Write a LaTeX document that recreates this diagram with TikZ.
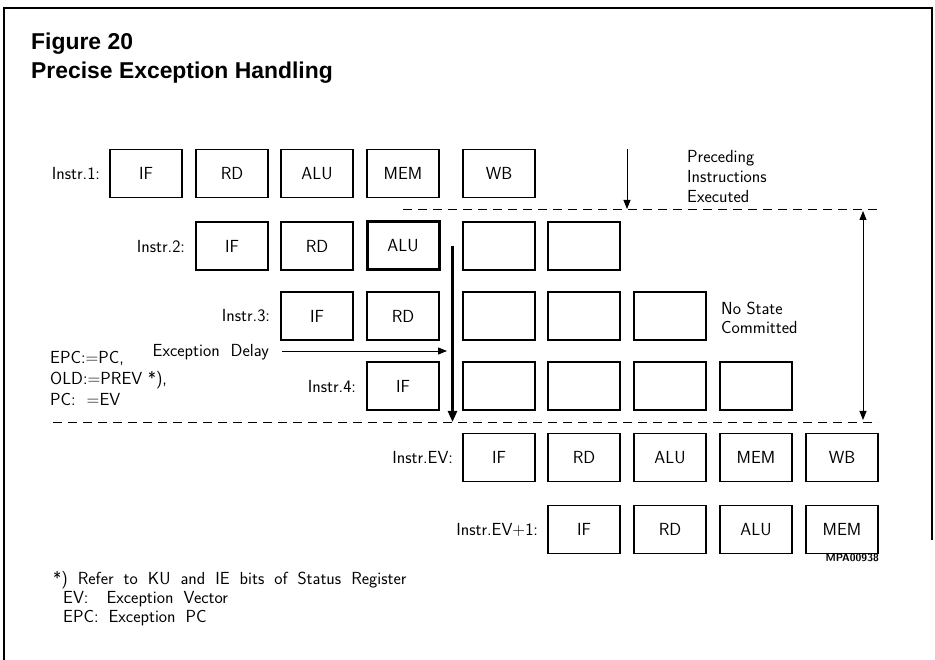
\documentclass[tikz,border=0pt]{standalone}
\usepackage{fontspec}
\setmainfont{Liberation Sans}
\usetikzlibrary{arrows.meta}
\usetikzlibrary{positioning}
\newcommand{\widesp}{\spaceskip=10pt\relax}

\begin{document}
\begin{tikzpicture}[x=1pt,y=-1pt,inner sep=0pt,
  font=\sffamily\fontsize{17.5}{20}\selectfont,
  stage/.style={draw,line width=1.5pt,minimum width=72pt,minimum height=48pt},
  hot/.style={stage,line width=3pt},
  tip/.style={-{Triangle[length=9pt,width=7pt]}},
  sep/.style={dash pattern=on 9pt off 6pt,line width=0.8pt}]
\useasboundingbox (0,0) rectangle (935,660);
\draw[line width=1.5pt] (4,660) -- (4,8) -- (932,8) -- (932,540);
\node[anchor=base west,font=\rmfamily\bfseries\fontsize{22.9}{22.9}\selectfont] (fig) at (31,50) {Figure 20};
\node[anchor=base west,font=\rmfamily\bfseries\fontsize{22.9}{22.9}\selectfont] (head) at (31,79) {Precise Exception Handling};

% Instr.1
\node[stage] (r1c1) at (146,173.5) {IF};
\node[stage] (r1c2) at (232,173.5) {RD};
\node[stage] (r1c3) at (317,173.5) {ALU};
\node[stage] (r1c4) at (403,173.5) {MEM};
\node[stage] (r1c5) at (499,173.5) {WB};
\node[left=9pt of r1c1] (l1) {Instr.1:};
% Instr.2
\node[stage] (r2c2) at (232,246) {IF};
\node[stage] (r2c3) at (317,246) {RD};
\node[hot] (r2c4) at (403,246) {ALU};
\node[stage] (r2c5) at (499,246) {};
\node[stage] (r2c6) at (584,246) {};
\node[left=10pt of r2c2] (l2) {Instr.2:};
% Instr.3
\node[stage] (r3c3) at (317,316) {IF};
\node[stage] (r3c4) at (403,316) {RD};
\node[stage] (r3c5) at (499,316) {};
\node[stage] (r3c6) at (584,316) {};
\node[stage] (r3c7) at (670,316) {};
\node[left=10pt of r3c3] (l3) {Instr.3:};
% Instr.4
\node[stage] (r4c4) at (403,386) {IF};
\node[stage] (r4c5) at (499,386) {};
\node[stage] (r4c6) at (584,386) {};
\node[stage] (r4c7) at (670,386) {};
\node[stage] (r4c8) at (756,386) {};
\node[left=10pt of r4c4] (l4) {Instr.4:};
% Instr.EV
\node[stage] (r5c5) at (499,457.5) {IF};
\node[stage] (r5c6) at (584,457.5) {RD};
\node[stage] (r5c7) at (670,457.5) {ALU};
\node[stage] (r5c8) at (756,457.5) {MEM};
\node[stage] (r5c9) at (842,457.5) {WB};
\node[left=9pt of r5c5] (l5) {Instr.EV:};
% Instr.EV+1
\node[stage] (r6c6) at (584,529.5) {IF};
\node[stage] (r6c7) at (670,529.5) {RD};
\node[stage] (r6c8) at (756,529.5) {ALU};
\node[stage] (r6c9) at (842,529.5) {MEM};
\node[left=9pt of r6c6] (l6) {Instr.EV+1:};

% boundaries
\coordinate (upL) at (403,209);
\coordinate (upR) at (878,209);
\coordinate (loL) at (53,422);
\coordinate (loR) at (878,422);
\draw[sep] (upL) -- (upR);
\draw[sep] (loL) -- (loR);

\coordinate (prec) at (627,149);
\draw[tip,line width=0.8pt] (prec) -- (prec |- upL);
\node[anchor=north west,align=left] (done) at (687,150) {Preceding\\Instructions\\Executed};

\coordinate (spanT) at (863,211);
\coordinate (spanB) at (863,420);
\draw[{Triangle[length=9pt,width=7pt]}-{Triangle[length=9pt,width=7pt]},line width=0.8pt] (spanT) -- (spanB);
\node[anchor=north west,align=left,font=\sffamily\fontsize{17.5}{19}\selectfont] (nostate) at (721,302) {No State\\Committed};

\coordinate (stop) at ([xshift=12pt]r2c4.east);
\draw[-{Triangle[length=11pt,width=9pt]},line width=2.4pt] (stop) -- (stop |- loL);

\node[anchor=base east] (delay) at (269,357) {Exception\ \ Delay};
\coordinate (delayend) at (447,351);
\draw[tip,line width=0.8pt] ([xshift=13pt]delay.east |- delayend) -- (delayend);

\node[anchor=north west,align=left,font=\sffamily\fontsize{17.5}{21}\selectfont] (epc) at (50,351) {EPC:=PC,\\OLD:=PREV *),\\PC:\ \ =EV};

\node[anchor=base east,font=\sffamily\bfseries\fontsize{10.5}{10.5}\selectfont] (mpa) at (879,561) {MPA00938};
\node[anchor=north west,align=left,font=\sffamily\fontsize{17.5}{19}\selectfont] (foot) at (53,571) {\widesp*) Refer to KU and IE bits of Status Register\\\widesp\hspace{10pt}EV:\hspace{18pt}Exception Vector\\\widesp\hspace{10pt}EPC: Exception PC};

\end{tikzpicture}
\end{document}
